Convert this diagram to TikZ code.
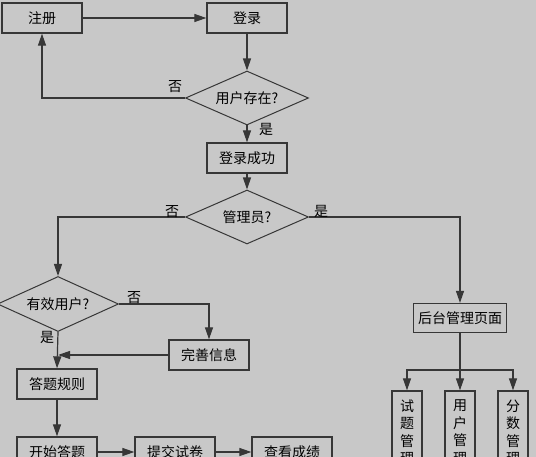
\documentclass[tikz,border=0pt]{standalone}
\usepackage{fontspec}
\newfontfamily\cjk{Noto Sans CJK SC}
\usetikzlibrary{shapes.geometric,arrows.meta}
\definecolor{bg}{RGB}{200,200,200}
\definecolor{edge}{RGB}{55,55,55}
\begin{document}
\begin{tikzpicture}[x=1pt,y=-1pt,
  every node/.style={font=\cjk\fontsize{14}{17.5}\selectfont, text=black},
  box/.style={draw=edge, line width=1.3pt, fill=bg, minimum width=80pt, minimum height=30pt, inner sep=0pt},
  vbox/.style={draw=edge, line width=1.3pt, fill=bg, minimum width=30pt, minimum height=82pt, inner sep=0pt, align=center, text width=30pt},
  dia/.style={draw=edge, line width=1pt, fill=bg, diamond, aspect=2.28, inner sep=0pt, minimum width=123pt, minimum height=54pt},
  lbl/.style={inner sep=1pt},
  conn/.style={draw=edge, line width=1.2pt},
  arr/.style={conn, -{Triangle[length=12pt,width=8pt]}}]
\path[use as bounding box] (0,0) rectangle (536,457);
\clip (0,0) rectangle (536,457);
\fill[bg] (0,0) rectangle (536,457);

\node[box] (zc) at (42,18) {注册};
\node[box] (dl) at (247,18) {登录};
\node[dia] (d1) at (247,98) {用户存在?};
\node[box] (cg) at (247,158) {登录成功};
\node[dia] (d2) at (247,217) {管理员?};
\node[dia, minimum width=121pt, minimum height=55pt] (d3) at (58,304) {有效用户?};
\node[box] (ws) at (209,355) {完善信息};
\node[box] (gz) at (57,384) {答题规则};
\node[box] (ks) at (57,452) {开始答题};
\node[box] (tj) at (175,452) {提交试卷};
\node[box] (ck) at (292,452) {查看成绩};
\node[box, minimum width=93pt, minimum height=29pt] (ht) at (460,318) {后台管理页面};
\node[vbox] (b1) at (407,432) {试\\题\\管\\理};
\node[vbox] (b2) at (460,432) {用\\户\\管\\理};
\node[vbox] (b3) at (513,432) {分\\数\\管\\理};

\draw[arr] (zc.east) -- (dl.west);
\draw[arr] (dl.south) -- (d1.north);
\draw[arr] (d1.west) -| (zc.south);
\node[lbl] (n1) at (175,87) {否};
\draw[arr] (d1.south) -- (cg.north);
\node[lbl] (y1) at (266,129) {是};
\draw[arr] (cg.south) -- (d2.north);
\draw[arr] (d2.west) -| (d3.north);
\node[lbl] (n2) at (172,212) {否};
\draw[arr] (d2.east) -| (ht.north);
\node[lbl] (y2) at (321,211) {是};
\draw[arr] (d3.east) -| (ws.north);
\node[lbl] (n3) at (134,298) {否};
\coordinate (m) at (d3.south |- ws.west);
\draw[arr] (d3.south) -- (gz.north);
\draw[arr] (ws.west) -- (m);
\node[lbl] (y3) at (47,337) {是};
\draw[arr] (gz.south) -- (ks.north);
\draw[arr] (ks.east) -- (tj.west);
\draw[arr] (tj.east) -- (ck.west);
\coordinate (j) at (460,370);
\draw[conn] (ht.south) -- (j);
\draw[arr] (j) -| (b1.north);
\draw[arr] (j) -| (b3.north);
\draw[arr] (j) -- (b2.north);
\end{tikzpicture}
\end{document}
